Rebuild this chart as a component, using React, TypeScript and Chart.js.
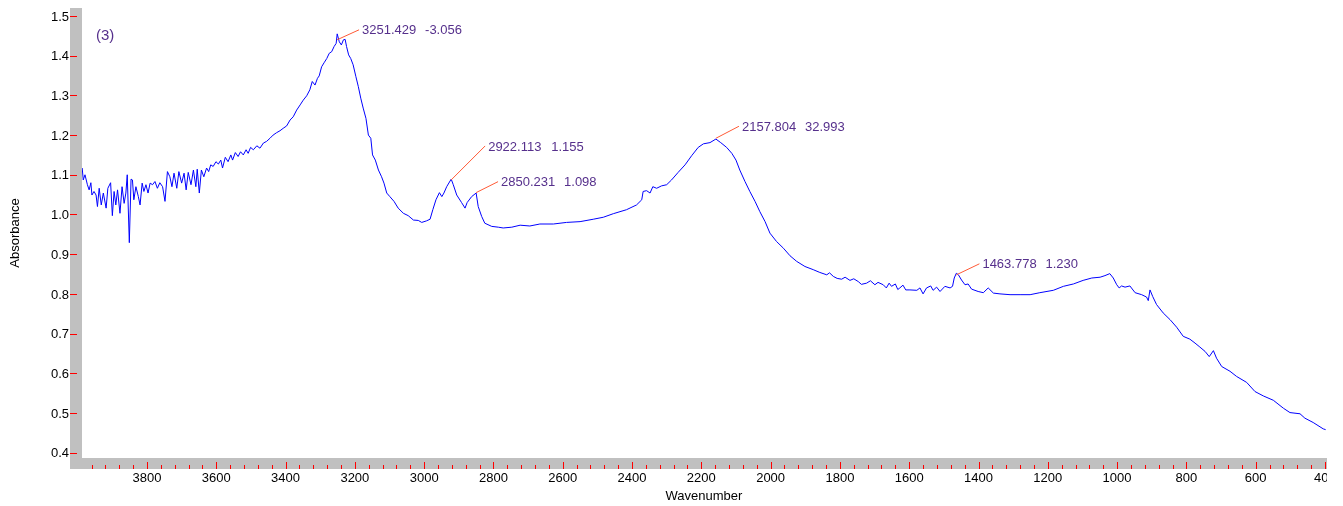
import { useEffect, useRef } from "react";
import { Chart, registerables } from "chart.js";

Chart.register(...registerables);

// Spectrum (wavenumber, absorbance)
const wavenumbers = [
  3987, 3984, 3979, 3972, 3967, 3962, 3959, 3953, 3947, 3943, 3938, 3932, 3926, 3918, 3913, 3905, 3900, 3895, 3890, 3885,
  3878, 3872, 3866, 3861, 3857, 3851, 3846, 3842, 3838, 3832, 3825, 3820, 3814, 3809, 3803, 3797, 3791, 3784, 3777, 3770,
  3763, 3755, 3748, 3741, 3734, 3728, 3722, 3714, 3708, 3700, 3693, 3687, 3681, 3673, 3666, 3659, 3655, 3649, 3643, 3636,
  3628, 3622, 3616, 3609, 3601, 3594, 3587, 3582, 3574, 3566, 3558, 3553, 3545, 3537, 3530, 3522, 3514, 3508, 3501, 3493,
  3483, 3474, 3464, 3455, 3445, 3436, 3426, 3416, 3407, 3397, 3387, 3378, 3368, 3358, 3349, 3339, 3330, 3323, 3315, 3308,
  3303, 3296, 3289, 3281, 3274, 3267, 3260, 3254, 3251, 3245, 3239, 3233, 3228, 3224, 3218, 3212, 3205, 3197, 3190, 3183,
  3176, 3168, 3161, 3154, 3149, 3141, 3132, 3123, 3116, 3108, 3099, 3087, 3075, 3060, 3046, 3031, 3017, 3007, 2993, 2983,
  2975, 2966, 2956, 2949, 2943, 2935, 2922, 2916, 2906, 2892, 2882, 2876, 2863, 2850, 2844, 2834, 2825, 2805, 2786, 2772,
  2747, 2723, 2695, 2666, 2627, 2589, 2550, 2512, 2483, 2454, 2416, 2387, 2372, 2368, 2358, 2348, 2340, 2329, 2315, 2300,
  2286, 2267, 2247, 2228, 2209, 2194, 2175, 2158, 2144, 2127, 2112, 2100, 2089, 2074, 2060, 2045, 2031, 2016, 2002, 1983,
  1963, 1944, 1925, 1901, 1877, 1858, 1838, 1830, 1819, 1808, 1795, 1785, 1771, 1760, 1747, 1738, 1723, 1712, 1699, 1690,
  1675, 1666, 1658, 1651, 1640, 1633, 1627, 1618, 1610, 1598, 1578, 1569, 1560, 1550, 1538, 1531, 1521, 1511, 1497, 1482,
  1475, 1470, 1464, 1458, 1449, 1439, 1430, 1420, 1401, 1386, 1372, 1357, 1338, 1309, 1280, 1251, 1223, 1184, 1155, 1126,
  1098, 1073, 1049, 1035, 1021, 1011, 1001, 994, 987, 977, 963, 948, 929, 915, 910, 905, 897, 886, 867, 847,
  828, 809, 790, 775, 761, 746, 734, 722, 713, 698, 674, 655, 626, 602, 578, 549, 520, 501, 472, 458,
  434, 405, 398,
];

const absorbance = [
  1.117, 1.087, 1.100, 1.075, 1.062, 1.080, 1.049, 1.058, 1.049, 1.020, 1.066, 1.024, 1.054, 1.016, 1.066, 1.080, 0.997, 1.058, 1.024, 1.062,
  1.003, 1.070, 1.028, 1.054, 1.100, 0.929, 1.089, 1.087, 1.037, 1.070, 1.045, 1.024, 1.079, 1.058, 1.075, 1.054, 1.079, 1.075, 1.083, 1.066,
  1.080, 1.070, 1.033, 1.108, 1.095, 1.070, 1.104, 1.066, 1.108, 1.079, 1.104, 1.062, 1.106, 1.075, 1.112, 1.070, 1.114, 1.054, 1.112, 1.095,
  1.117, 1.108, 1.125, 1.121, 1.133, 1.127, 1.137, 1.117, 1.144, 1.133, 1.150, 1.137, 1.156, 1.146, 1.158, 1.150, 1.163, 1.154, 1.169, 1.163,
  1.173, 1.167, 1.180, 1.184, 1.192, 1.200, 1.206, 1.211, 1.217, 1.223, 1.238, 1.246, 1.263, 1.276, 1.288, 1.299, 1.314, 1.335, 1.326, 1.343,
  1.349, 1.372, 1.382, 1.393, 1.406, 1.410, 1.423, 1.431, 1.455, 1.435, 1.427, 1.440, 1.441, 1.423, 1.402, 1.393, 1.377, 1.347, 1.322, 1.293,
  1.268, 1.242, 1.200, 1.192, 1.150, 1.137, 1.112, 1.095, 1.079, 1.054, 1.045, 1.033, 1.016, 1.003, 0.997, 0.986, 0.985, 0.980, 0.984, 0.988,
  1.012, 1.037, 1.055, 1.045, 1.054, 1.070, 1.089, 1.075, 1.049, 1.030, 1.016, 1.030, 1.045, 1.054, 1.020, 0.995, 0.978, 0.970, 0.968, 0.966,
  0.968, 0.973, 0.971, 0.976, 0.976, 0.980, 0.982, 0.988, 0.993, 1.002, 1.012, 1.024, 1.037, 1.058, 1.060, 1.054, 1.070, 1.066, 1.072, 1.075,
  1.087, 1.106, 1.125, 1.148, 1.169, 1.178, 1.181, 1.190, 1.181, 1.169, 1.154, 1.137, 1.112, 1.083, 1.058, 1.033, 1.007, 0.982, 0.953, 0.932,
  0.915, 0.896, 0.882, 0.869, 0.861, 0.854, 0.848, 0.853, 0.844, 0.839, 0.837, 0.842, 0.834, 0.838, 0.831, 0.824, 0.827, 0.833, 0.823, 0.829,
  0.823, 0.815, 0.827, 0.819, 0.825, 0.811, 0.815, 0.822, 0.810, 0.810, 0.809, 0.815, 0.800, 0.815, 0.820, 0.809, 0.817, 0.806, 0.819, 0.815,
  0.819, 0.840, 0.852, 0.848, 0.835, 0.823, 0.825, 0.812, 0.806, 0.803, 0.815, 0.802, 0.800, 0.798, 0.798, 0.798, 0.803, 0.809, 0.819, 0.825,
  0.834, 0.840, 0.842, 0.846, 0.851, 0.840, 0.823, 0.815, 0.820, 0.817, 0.820, 0.803, 0.798, 0.792, 0.783, 0.810, 0.793, 0.773, 0.752, 0.735,
  0.716, 0.693, 0.686, 0.676, 0.666, 0.655, 0.642, 0.657, 0.638, 0.617, 0.605, 0.592, 0.577, 0.554, 0.543, 0.532, 0.512, 0.501, 0.498, 0.487,
  0.476, 0.460, 0.458,
];

const xMajorTicks = [3800, 3600, 3400, 3200, 3000, 2800, 2600, 2400, 2200, 2000, 1800, 1600, 1400, 1200, 1000, 800, 600, 400];
const xMinorStep = 40;
const yTicks = [1.5, 1.4, 1.3, 1.2, 1.1, 1.0, 0.9, 0.8, 0.7, 0.6, 0.5, 0.4];
const yTickLabels = ["1.5", "1.4", "1.3", "1.2", "1.1", "1.0", "0.9", "0.8", "0.7", "0.6", "0.5", "0.4"];

const peakWavenumbers = [3251.429, 2922.113, 2850.231, 2157.804, 1463.778];
const peakAbsorbance = [1.44, 1.087, 1.055, 1.192, 0.848];
const peakNames = ["3251.429", "2922.113", "2850.231", "2157.804", "1463.778"];
const peakValues = ["-3.056", "1.155", "1.098", "32.993", "1.230"];
const peakOffsets = [
  [22, -10],
  [34, -34],
  [22, -11],
  [23, -12],
  [23, -11],
];

const spectrumLabel = "(3)";
const xTitle = "Wavenumber";
const yTitle = "Absorbance";

const FONT = "'Liberation Sans', Arial, sans-serif";
const PURPLE = "#56308c";

const decorPlugin = {
  id: "decor",
  afterDraw(chart: any) {
    const { ctx, chartArea: a, scales } = chart;
    const xs = scales.x;
    const ys = scales.y;
    ctx.save();
    // gray axis bands
    ctx.fillStyle = "#c0c0c0";
    ctx.fillRect(a.left - 12, a.top, 12, a.bottom - a.top + 11);
    ctx.fillRect(a.left - 12, a.bottom, chart.width - (a.left - 12), 11);

    // ticks
    ctx.fillStyle = "#ff0000";
    for (let v = 400; v <= 3987; v += xMinorStep) {
      const px = Math.round(xs.getPixelForValue(v));
      const major = v % 200 === 0;
      if (major) ctx.fillRect(px, a.bottom + 4, 1, 7);
      else ctx.fillRect(px, a.bottom + 7, 1, 4);
    }
    yTicks.forEach((v) => {
      const py = Math.round(ys.getPixelForValue(v));
      ctx.fillRect(a.left - 12, py, 7, 1);
    });

    // tick labels
    ctx.fillStyle = "#000";
    ctx.font = `13px ${FONT}`;
    ctx.textBaseline = "alphabetic";
    ctx.textAlign = "center";
    xMajorTicks.forEach((v) => {
      ctx.fillText(String(v), xs.getPixelForValue(v), a.bottom + 24);
    });
    ctx.textAlign = "right";
    yTicks.forEach((v, i) => {
      ctx.fillText(yTickLabels[i], a.left - 13, ys.getPixelForValue(v) + 4.7);
    });

    // axis titles
    ctx.textAlign = "center";
    ctx.fillText(xTitle, (a.left + a.right) / 2, a.bottom + 42);
    ctx.save();
    ctx.translate(18.5, (a.top + a.bottom) / 2);
    ctx.rotate(-Math.PI / 2);
    ctx.fillText(yTitle, 0, 0);
    ctx.restore();

    // spectrum label
    ctx.fillStyle = PURPLE;
    ctx.font = `15px ${FONT}`;
    ctx.textAlign = "left";
    ctx.fillText(spectrumLabel, a.left + 14, a.top + 32);

    // peak annotations
    ctx.font = `13px ${FONT}`;
    peakWavenumbers.forEach((w, i) => {
      const x0 = xs.getPixelForValue(w);
      const y0 = ys.getPixelForValue(peakAbsorbance[i]);
      const x1 = x0 + peakOffsets[i][0];
      const y1 = y0 + peakOffsets[i][1];
      ctx.strokeStyle = "#ff5a36";
      ctx.lineWidth = 1;
      ctx.beginPath();
      ctx.moveTo(x0, y0);
      ctx.lineTo(x1, y1);
      ctx.stroke();
      ctx.fillStyle = PURPLE;
      ctx.fillText(peakNames[i], x1 + 3, y1 + 4.6);
      ctx.fillText(peakValues[i], x1 + 66, y1 + 4.6);
    });
    ctx.restore();
  },
};

export default function App() {
  const ref = useRef<HTMLCanvasElement | null>(null);
  useEffect(() => {
    if (!ref.current) return;
    const points = wavenumbers.map((w, i) => ({ x: w, y: absorbance[i] }));
    const chart = new Chart(ref.current, {
      type: "line",
      data: {
        datasets: [
          {
            data: points,
            borderColor: "#0000ff",
            borderWidth: 1,
            pointRadius: 0,
            tension: 0,
            fill: false,
          },
        ],
      },
      options: {
        animation: false,
        responsive: false,
        maintainAspectRatio: false,
        devicePixelRatio: 1,
        layout: { padding: { left: 82, right: 1, top: 8, bottom: 48 } },
        plugins: { legend: { display: false }, tooltip: { enabled: false } },
        events: [],
        scales: {
          x: { type: "linear", reverse: true, min: 397, max: 3987.6, display: false },
          y: { type: "linear", min: 0.3866, max: 1.5201, display: false },
        },
      },
      plugins: [decorPlugin],
    });
    return () => chart.destroy();
  }, []);
  return (
    <div style={{ position: "fixed", left: 0, top: 0, width: 1343, height: 506, background: "#fff", overflow: "hidden" }}>
      <canvas ref={ref} width={1327} height={506} style={{ display: "block" }} />
    </div>
  );
}
